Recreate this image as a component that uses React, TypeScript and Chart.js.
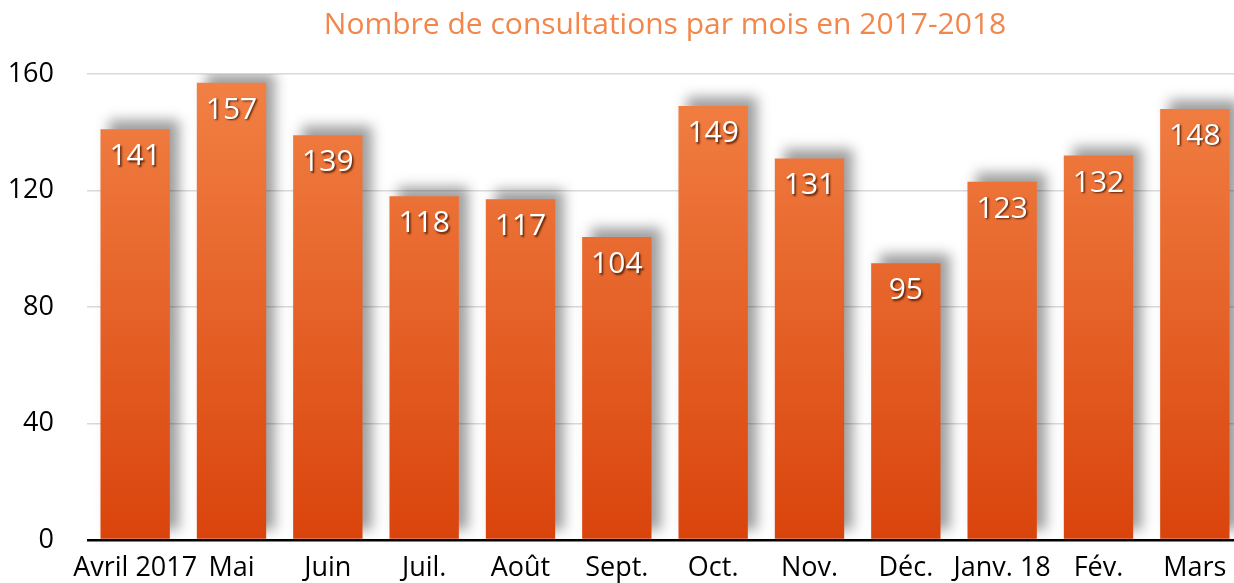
import React, { useEffect, useRef } from "react";
import { Chart, registerables } from "chart.js";

Chart.register(...registerables);

const TITLE = "Nombre de consultations par mois en 2017-2018";
const MONTHS = ["Avril 2017", "Mai", "Juin", "Juil.", "Août", "Sept.", "Oct.", "Nov.", "Déc.", "Janv. 18", "Fév.", "Mars"];
const CONSULTATIONS = [141, 157, 139, 118, 117, 104, 149, 131, 95, 123, 132, 148];
const Y_MAX = 160;
const Y_STEP = 40;

const FONT = "'Open Sans', 'Noto Sans', sans-serif";

const centeredTitle = {
  id: "centeredTitle",
  afterDraw(chart: any) {
    const ctx = chart.ctx;
    const a = chart.chartArea;
    ctx.save();
    ctx.font = `30px ${FONT}`;
    ctx.fillStyle = "#F2864B";
    ctx.textAlign = "center";
    ctx.textBaseline = "middle";
    ctx.fillText(TITLE, (a.left + a.right) / 2, 25);
    ctx.restore();
  },
};

const barShadow = {
  id: "barShadow",
  beforeDatasetsDraw(chart: any) {
    const ctx = chart.ctx;
    ctx.save();
    ctx.shadowColor = "rgba(0,0,0,0.38)";
    ctx.shadowBlur = 12;
    ctx.shadowOffsetX = 9;
    ctx.shadowOffsetY = -9;
  },
  afterDatasetsDraw(chart: any) {
    const ctx = chart.ctx;
    ctx.restore();
    const meta = chart.getDatasetMeta(0);
    const data = chart.data.datasets[0].data as number[];
    ctx.save();
    ctx.font = `30px ${FONT}`;
    ctx.fillStyle = "#ffffff";
    ctx.textAlign = "center";
    ctx.textBaseline = "alphabetic";
    ctx.shadowColor = "rgba(70,25,0,0.9)";
    ctx.shadowBlur = 2;
    ctx.shadowOffsetX = 1.5;
    ctx.shadowOffsetY = 1.5;
    meta.data.forEach((bar: any, i: number) => {
      ctx.fillText(String(data[i]), bar.x, bar.y + 36);
    });
    ctx.restore();
  },
};

export default function App() {
  const ref = useRef<HTMLCanvasElement | null>(null);
  useEffect(() => {
    if (!ref.current) return;
    const chart = new Chart(ref.current, {
      type: "bar",
      data: {
        labels: MONTHS,
        datasets: [
          {
            data: CONSULTATIONS,
            backgroundColor: (c: any) => {
              const { chart } = c;
              const area = chart.chartArea;
              if (!area) return "#E8622A";
              const g = chart.ctx.createLinearGradient(0, area.top, 0, area.bottom);
              g.addColorStop(0, "#F28145");
              g.addColorStop(1, "#D9440C");
              return g;
            },
            borderWidth: 0,
            barPercentage: 0.72,
            categoryPercentage: 1,
          },
        ],
      },
      options: {
        responsive: false,
        animation: false,
        devicePixelRatio: 1,
        layout: { padding: { top: 74, left: 0, right: 0, bottom: 0 } },
        plugins: {
          legend: { display: false },
          tooltip: { enabled: false },
          title: { display: false },
        },
        scales: {
          x: {
            grid: { display: false, drawTicks: false },
            border: { display: false },
            ticks: {
              color: "#000",
              font: { family: FONT, size: 27 },
              padding: 12,
              maxRotation: 0,
              autoSkip: false,
            },
            afterFit: (s: any) => {
              s.height = 43;
            },
          },
          y: {
            min: 0,
            max: Y_MAX,
            grid: {
              drawTicks: false,
              color: (c: any) => (c.tick && c.tick.value === 0 ? "#000000" : "#D9D9D9"),
              lineWidth: (c: any) => (c.tick && c.tick.value === 0 ? 2.5 : 1.5),
            },
            border: { display: false },
            ticks: {
              stepSize: Y_STEP,
              color: "#000",
              font: { family: FONT, size: 27 },
              padding: 33,
            },
            afterFit: (s: any) => {
              s.width = 87;
              s.paddingTop = 0;
              s.paddingBottom = 0;
            },
          },
        },
      },
      plugins: [barShadow, centeredTitle],
    });
    return () => chart.destroy();
  }, []);
  return (
    <div style={{ position: "absolute", left: 0, top: 0, width: 1234, height: 583, overflow: "hidden", background: "#fff" }}>
      <canvas ref={ref} width={1243} height={583} style={{ width: 1243, height: 583, display: "block" }} />
    </div>
  );
}
